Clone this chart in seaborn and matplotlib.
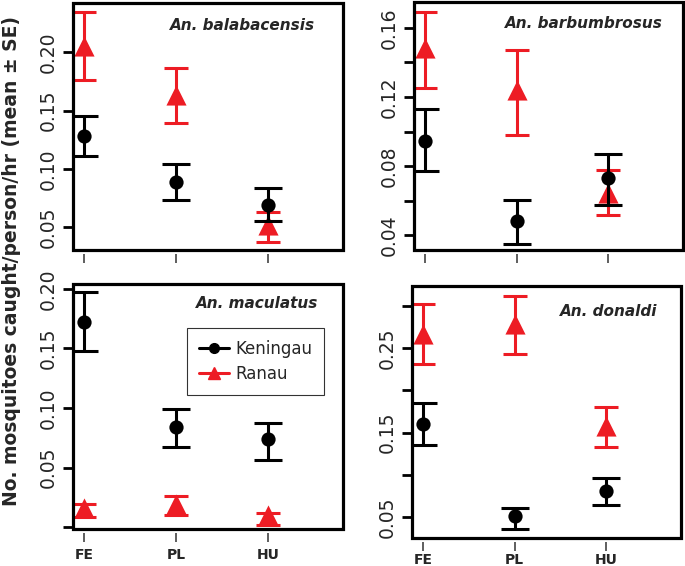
import numpy as np
import pandas as pd
import seaborn as sns
import matplotlib.pyplot as plt
from matplotlib.patches import Rectangle
from matplotlib.lines import Line2D

# habitats on the x axis
habitats = ['FE', 'PL', 'HU']
species = ['An. balabacensis', 'An. barbumbrosus', 'An. maculatus', 'An. donaldi']
sites = ['Keningau', 'Ranau']

# mean and SE bounds (order: FE, PL, HU)
ken_mean = {'An. balabacensis': [0.128, 0.089, 0.069],
            'An. barbumbrosus': [0.0945, 0.048, 0.073],
            'An. maculatus': [0.1725, 0.0843, 0.0737],
            'An. donaldi': [0.1606, 0.0508, 0.0809]}
ken_lo = {'An. balabacensis': [0.111, 0.073, 0.0553],
          'An. barbumbrosus': [0.0771, 0.0351, 0.0575],
          'An. maculatus': [0.1482, 0.0675, 0.0563],
          'An. donaldi': [0.1355, 0.0363, 0.0648]}
ken_hi = {'An. balabacensis': [0.1453, 0.1046, 0.0838],
          'An. barbumbrosus': [0.113, 0.0603, 0.0868],
          'An. maculatus': [0.1972, 0.0992, 0.0871],
          'An. donaldi': [0.1847, 0.0611, 0.0963]}
ran_mean = {'An. balabacensis': [0.2057, 0.1636, 0.0515],
            'An. barbumbrosus': [0.1484, 0.1239, 0.0642],
            'An. maculatus': [0.0166, 0.0199, 0.0101],
            'An. donaldi': [0.267, 0.2788, 0.1579]}
ran_lo = {'An. balabacensis': [0.1767, 0.1393, 0.0369],
          'An. barbumbrosus': [0.1254, 0.0978, 0.0516],
          'An. maculatus': [0.0087, 0.0101, 0.0017],
          'An. donaldi': [0.2316, 0.2434, 0.1331]}
ran_hi = {'An. balabacensis': [0.2348, 0.1867, 0.0632],
          'An. barbumbrosus': [0.1693, 0.1474, 0.0779],
          'An. maculatus': [0.0199, 0.0263, 0.0123],
          'An. donaldi': [0.3017, 0.3115, 0.1807]}

# axis settings per panel
ylims = {'An. balabacensis': (0.0303, 0.2425),
         'An. barbumbrosus': (0.0315, 0.1749),
         'An. maculatus': (-0.0014, 0.204),
         'An. donaldi': (0.0252, 0.3236)}
yticks = {'An. balabacensis': [0.05, 0.10, 0.15, 0.20],
          'An. barbumbrosus': [0.04, 0.06, 0.08, 0.10, 0.12, 0.14, 0.16],
          'An. maculatus': [0.0, 0.05, 0.10, 0.15, 0.20],
          'An. donaldi': [0.05, 0.10, 0.15, 0.20, 0.25, 0.30]}
ylabels_shown = {'An. balabacensis': ['0.05', '0.10', '0.15', '0.20'],
                 'An. barbumbrosus': ['0.04', '', '0.08', '', '0.12', '', '0.16'],
                 'An. maculatus': ['', '0.05', '0.10', '0.15', '0.20'],
                 'An. donaldi': ['0.05', '', '0.15', '', '0.25', '']}

rows = []
for sp in species:
    for site, m, lo, hi in [('Ranau', ran_mean, ran_lo, ran_hi),
                            ('Keningau', ken_mean, ken_lo, ken_hi)]:
        for i, h in enumerate(habitats):
            rows.append(dict(species=sp, site=site, habitat=h, pos=i + 1,
                             mean=m[sp][i], lo=lo[sp][i], hi=hi[sp][i]))
df = pd.DataFrame(rows)

sns.set_style('white')
plt.rcParams['font.family'] = ['DejaVu Sans']

colors = {'Keningau': 'black', 'Ranau': '#ED1C24'}
markers = {'Keningau': 'o', 'Ranau': '^'}
sizes = {'Keningau': 105, 'Ranau': 210}
caps = {'Keningau': 10, 'Ranau': 8.5}

fig = plt.figure(figsize=(6.85, 5.66), dpi=100)
# panel boxes in pixels: left, top, right, bottom
boxes = [(73, 3, 343, 250), (414, 2, 683, 250),
         (73, 284, 343, 529), (412, 286, 681, 538)]
title_off = [(28, 22), (20, 22), (25, 19), (24, 26)]
xpads = [4, 4, 4.5, 1.2]

for k, sp in enumerate(species):
    l, t, r, b = boxes[k]
    ax = fig.add_axes([l / 685, (566 - b) / 566, (r - l) / 685, (b - t) / 566])
    sub = df[df.species == sp]
    z = 3
    for site in ['Ranau', 'Keningau']:
        d = sub[sub.site == site]
        ax.errorbar(d['pos'], d['mean'], yerr=[d['mean'] - d['lo'], d['hi'] - d['mean']],
                    fmt='none', ecolor=colors[site], elinewidth=2.2,
                    capsize=caps[site], capthick=2.2, zorder=z)
        sns.scatterplot(data=d, x='pos', y='mean', color=colors[site],
                        marker=markers[site], s=sizes[site], linewidth=0,
                        legend=False, ax=ax, zorder=z + 1)
        z += 2
    ax.set_xlim(0.875, 3.82)
    ax.set_ylim(*ylims[sp])
    ax.set_xticks([1, 2, 3])
    ax.set_yticks(yticks[sp])
    ax.set_yticklabels(ylabels_shown[sp])
    ax.set_xlabel('')
    ax.set_ylabel('')
    for s in ax.spines.values():
        s.set_visible(False)
    ax.spines['bottom'].set_position(('outward', 3))
    ax.add_patch(Rectangle((0, 0), 1, 1, transform=ax.transAxes, fill=False,
                           lw=2.3, ec='black', clip_on=False, zorder=10))
    ax.tick_params(axis='y', direction='out', length=7.5, width=2, color='black',
                   labelsize=13.5, labelrotation=90, pad=3.5, left=True)
    ax.tick_params(axis='x', direction='out', length=6.5, width=1.1, color='#333333',
                   pad=xpads[k], bottom=True)
    if k >= 2:
        ax.set_xticklabels(habitats, fontsize=10, fontweight='bold')
    else:
        ax.set_xticklabels([])
    for lab in ax.get_yticklabels():
        lab.set_va('center')
    dx, dy = title_off[k]
    ax.text(1 - dx / (r - l), 1 - dy / (b - t), sp, transform=ax.transAxes,
            ha='right', va='center', fontsize=11, fontweight='bold', style='italic')
    if sp == 'An. maculatus':
        handles = [Line2D([0], [0], color='black', marker='o', lw=2.2, ms=7),
                   Line2D([0], [0], color='#ED1C24', marker='^', lw=2.2, ms=9)]
        leg = ax.legend(handles, sites, loc='upper left', bbox_to_anchor=(0.422, 0.82),
                        borderaxespad=0, fontsize=12, frameon=True, fancybox=False,
                        handlelength=1.8, borderpad=0.7, labelspacing=0.45,
                        handletextpad=0.4)
        leg.get_frame().set_edgecolor('black')
        leg.get_frame().set_linewidth(0.8)

fig.text(12 / 685, 1 - 261 / 566, 'No. mosquitoes caught/person/hr (mean \u00b1 SE)',
         rotation=90, ha='center', va='center', fontsize=13.5, fontweight='bold')

fig.savefig('out.png', dpi=100)
